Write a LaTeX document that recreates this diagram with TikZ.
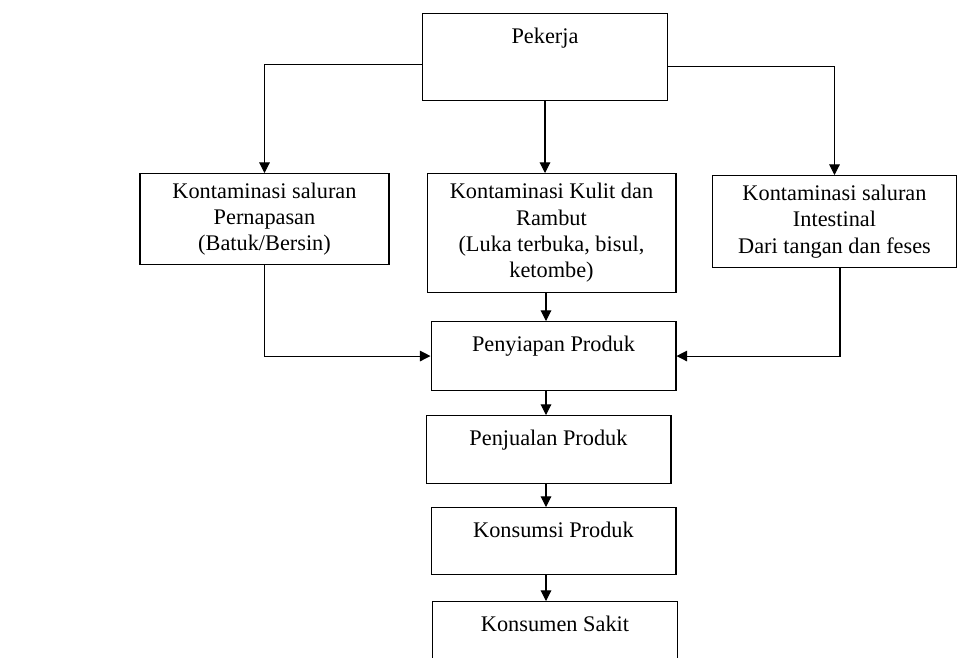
\documentclass[tikz,border=0pt]{standalone}
\usepackage{fontspec}
\setmainfont{Liberation Serif}
\usetikzlibrary{arrows.meta}
\tikzset{
  kotak/.style={draw, anchor=north, align=center, inner sep=2pt, minimum width=4.98cm},
  tahap/.style={draw, anchor=north, inner ysep=0pt, text height=0.59cm, minimum width=4.9cm},
}
\begin{document}
\begin{tikzpicture}[>={Triangle[length=6pt,width=6pt]},line width=0.6pt,x=0.02cm,y=-0.02cm,font=\fontsize{12.7}{15}\selectfont]
	\clip (0,0) rectangle (957,657);
	% sumber
	\node[tahap, text depth=1.15cm] (pekerja) at (545,13) {Pekerja};
	% jalur kontaminasi
	\node[kotak, minimum height=1.82cm] (napas) at (264.5,173) {Kontaminasi saluran\\Pernapasan\\(Batuk/Bersin)};
	\node[kotak, minimum height=2.38cm] (kulit) at (551.5,173) {Kontaminasi Kulit dan\\Rambut\\(Luka terbuka, bisul,\\ketombe)};
	\node[kotak, minimum width=4.9cm, minimum height=1.84cm] (usus) at (834.5,175) {Kontaminasi saluran\\Intestinal\\Dari tangan dan feses};
	% alur produk
	\node[tahap, text depth=0.79cm] (siap) at (553.5,321) {Penyiapan Produk};
	\node[tahap, text depth=0.77cm] (jual) at (548.5,415) {Penjualan Produk};
	\node[tahap, text depth=0.75cm] (konsumsi) at (553.5,507) {Konsumsi Produk};
	\node[tahap, text depth=1.2cm] (sakit) at (555,601) {Konsumen Sakit};
	\coordinate (poros) at (546,0);
	\draw[->] ([yshift=-0.15cm]pekerja.west) -| (napas.north);
	\draw[->] (pekerja.south) -- (kulit.north -| pekerja.south);
	\draw[->] ([yshift=-0.19cm]pekerja.east) -| (usus.north);
	\draw[->] (kulit.south -| poros) -- (siap.north -| poros);
	\draw[->] (napas.south) |- (siap.west);
	\draw[->] ([xshift=0.11cm]usus.south) |- (siap.east);
	\foreach \a/\b in {siap/jual,jual/konsumsi,konsumsi/sakit}
		\draw[->] (\a.south -| poros) -- (\b.north -| poros);
\end{tikzpicture}
\end{document}
